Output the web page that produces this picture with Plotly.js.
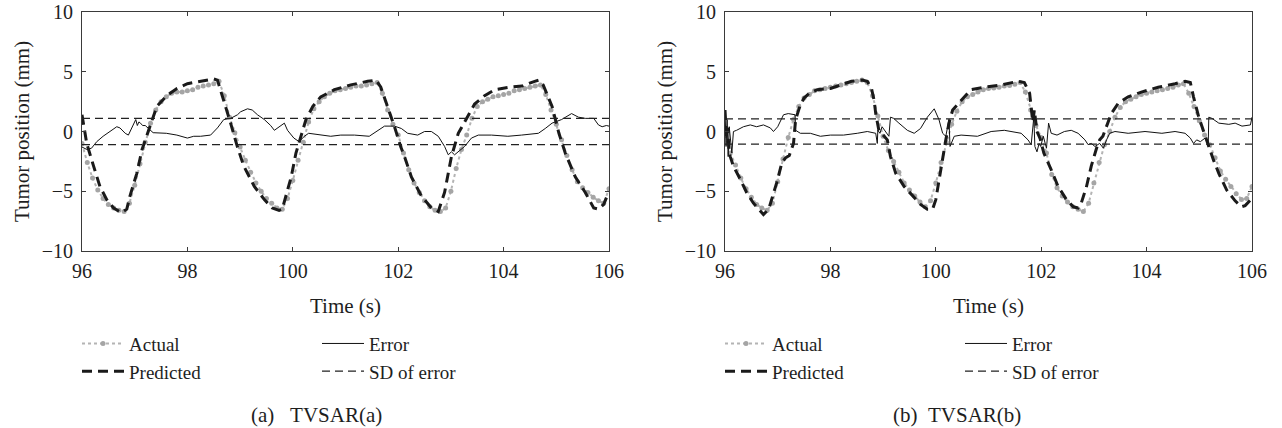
<!DOCTYPE html>
<html><head><meta charset="utf-8">
<script src="https://cdn.plot.ly/plotly-3.0.1.min.js"></script>
<style>
html,body{margin:0;padding:0;background:#fff;width:1282px;height:428px;overflow:hidden}
.p{position:absolute;top:0;width:641px;height:428px}
</style></head>
<body>
<div id="pa" class="p" style="left:0"></div>
<div id="pb" class="p" style="left:641px"></div>
<script>
// ---------- data ----------
const xTicks = [96, 98, 100, 102, 104, 106];
const yTicks = [-10, -5, 0, 5, 10];
const seriesNames = ['Actual', 'Error', 'Predicted', 'SD of error'];
const captions = ['(a)\u00a0\u00a0\u00a0TVSAR(a)', '(b)\u00a0\u00a0TVSAR(b)'];

const tActual = [96.0,96.1,96.2,96.3,96.4,96.5,96.6,96.7,96.8,96.9,
 97.0,97.1,97.2,97.3,97.4,97.5,97.6,97.7,97.8,97.9,
 98.0,98.1,98.2,98.3,98.4,98.5,98.6,98.7,98.8,98.9,
 99.0,99.1,99.2,99.3,99.4,99.5,99.6,99.7,99.8,99.9,
 100.0,100.1,100.2,100.3,100.4,100.5,100.6,100.7,100.8,100.9,
 101.0,101.1,101.2,101.3,101.4,101.5,101.6,101.7,101.8,101.9,
 102.0,102.1,102.2,102.3,102.4,102.5,102.6,102.7,102.8,102.9,
 103.0,103.1,103.2,103.3,103.4,103.5,103.6,103.7,103.8,103.9,
 104.0,104.1,104.2,104.3,104.4,104.5,104.6,104.7,104.8,104.9,
 105.0,105.1,105.2,105.3,105.4,105.5,105.6,105.7,105.8,105.9,
 106.0];

const actualA = [-1.0,-2.6,-3.9,-4.9,-5.6,-6.1,-6.4,-6.6,-6.7,-6.0,
 -4.5,-2.7,-0.9,0.7,1.8,2.5,2.9,3.2,3.3,3.3,
 3.4,3.5,3.7,3.8,3.9,4.0,4.2,3.0,1.2,-0.1,
 -1.3,-2.4,-3.4,-4.3,-5.0,-5.6,-6.0,-6.4,-6.5,-5.6,
 -4.1,-2.4,-0.9,0.8,1.9,2.5,2.9,3.2,3.4,3.5,
 3.6,3.7,3.8,3.8,3.9,4.0,4.1,3.2,1.8,0.6,
 -0.3,-1.8,-3.2,-4.3,-5.1,-5.8,-6.3,-6.6,-6.7,-6.4,
 -5.0,-3.1,-1.5,-0.3,1.1,2.1,2.5,2.7,2.9,3.0,
 3.1,3.2,3.4,3.5,3.6,3.7,3.8,3.9,3.1,1.8,
 0.6,-0.7,-2.0,-3.2,-4.2,-4.7,-5.1,-5.5,-5.8,-6.0,
 -4.8];

const tPredA = [96.0,96.09,96.22,96.34,96.47,96.6,96.75,96.85,96.91,97.04,97.14,97.26,97.42,97.61,97.8,98.0,98.25,98.5,98.57,98.69,98.82,98.95,99.07,99.27,99.46,99.61,99.74,99.8,99.87,99.97,100.06,100.16,100.25,100.38,100.53,100.79,101.1,101.42,101.58,101.67,101.8,101.93,102.05,102.12,102.25,102.44,102.63,102.76,102.88,103.01,103.14,103.33,103.45,103.64,103.83,104.1,104.35,104.59,104.67,104.75,104.92,105.05,105.17,105.36,105.55,105.71,105.8,105.9,106.0];
const predA = [1.4,-1.0,-2.9,-4.6,-5.7,-6.4,-6.8,-6.5,-5.4,-3.5,-1.5,0.1,2.1,3.0,3.6,4.0,4.2,4.4,4.3,2.6,0.7,-1.3,-2.9,-4.6,-5.7,-6.4,-6.6,-6.5,-5.4,-3.8,-1.8,-0.4,1.0,2.1,2.9,3.5,3.9,4.2,4.3,3.7,2.1,0.4,-1.3,-2.1,-3.8,-5.4,-6.4,-6.7,-5.1,-2.1,-0.15,1.4,2.3,3.0,3.5,3.7,3.8,4.2,4.3,3.9,2.1,-0.15,-1.8,-3.8,-5.1,-6.4,-6.5,-6.1,-5.0];

const tErrA = [96.0,96.09,96.18,96.28,96.4,96.53,96.66,96.72,96.82,96.88,96.95,96.98,97.02,97.05,97.08,97.11,97.15,97.2,97.25,97.35,97.6,97.8,98.0,98.12,98.25,98.44,98.57,98.69,98.82,98.95,99.01,99.14,99.23,99.33,99.46,99.58,99.65,99.74,99.84,99.9,100.02,100.12,100.22,100.3,100.53,100.72,100.91,101.17,101.45,101.61,101.74,101.93,102.06,102.18,102.37,102.5,102.63,102.76,102.88,102.95,103.01,103.07,103.17,103.26,103.39,103.52,103.77,104.08,104.34,104.66,104.79,104.92,105.1,105.29,105.42,105.55,105.71,105.8,105.87,105.95,106.0];
const errA = [-1.3,-1.5,-1.4,-0.85,-0.4,0.0,0.4,0.3,-0.15,-0.3,0.4,0.7,1.0,0.5,0.8,0.7,0.5,0.5,0.3,-0.1,-0.15,-0.3,-0.55,-0.4,-0.4,-0.3,0.3,1.0,1.1,1.4,1.65,1.9,1.8,1.4,1.0,0.5,0.1,0.4,0.7,0.1,-0.55,-0.85,-0.4,-0.15,-0.3,-0.4,-0.3,-0.3,-0.4,0.1,0.45,0.45,0.25,-0.15,-0.3,0.0,0.0,-0.4,-1.25,-1.95,-1.7,-1.95,-1.55,-1.25,-0.55,-0.3,-0.3,-0.4,-0.3,-0.15,0.25,0.7,1.0,1.5,1.2,1.1,1.1,0.55,0.4,0.5,0.45];
const sdA = 1.1;

const actualB = [-0.3,-1.8,-2.8,-3.9,-4.8,-5.5,-6.1,-6.4,-6.6,-6.0,
 -4.2,-2.3,-0.5,1.0,2.1,2.8,3.1,3.4,3.5,3.6,
 3.7,3.8,3.9,4.0,4.1,4.2,4.3,4.1,3.0,1.3,
 -0.4,-1.6,-2.5,-3.4,-4.3,-4.9,-5.4,-5.9,-6.3,-5.8,
 -4.3,-2.6,-0.9,0.6,1.7,2.5,2.9,3.1,3.3,3.5,
 3.6,3.65,3.7,3.8,3.85,3.95,4.1,3.3,1.8,0.5,
 -0.5,-1.8,-3.6,-4.7,-5.4,-5.9,-6.3,-6.5,-6.7,-6.0,
 -4.3,-2.6,-1.1,0.0,1.2,2.0,2.5,2.7,2.9,3.1,
 3.2,3.3,3.4,3.5,3.6,3.7,3.9,4.0,3.2,2.1,
 0.9,-0.3,-1.1,-2.2,-3.3,-4.0,-4.6,-5.2,-5.7,-5.6,
 -4.6];

const tPredB = [96.0,96.03,96.05,96.08,96.1,96.16,96.29,96.41,96.54,96.67,96.73,96.83,96.89,96.98,97.08,97.15,97.22,97.3,97.34,97.42,97.5,97.6,97.75,98.0,98.2,98.4,98.6,98.7,98.78,98.83,98.86,98.92,99.02,99.08,99.14,99.24,99.4,99.56,99.71,99.84,99.94,100.0,100.06,100.13,100.19,100.25,100.32,100.48,100.67,100.92,101.24,101.56,101.68,101.78,101.84,101.87,101.92,101.98,102.05,102.19,102.32,102.48,102.61,102.7,102.76,102.86,102.95,103.05,103.11,103.17,103.24,103.33,103.46,103.65,103.9,104.22,104.54,104.73,104.83,104.89,104.99,105.05,105.14,105.17,105.27,105.37,105.52,105.68,105.8,105.87,105.97,106.0];
const predB = [1.8,-0.5,0.3,-1.8,-2.1,-2.9,-4.0,-5.1,-6.0,-6.7,-6.95,-6.5,-5.7,-4.3,-2.6,-2.2,-2.0,-1.0,1.0,2.1,2.8,3.2,3.5,3.6,3.9,4.2,4.3,4.2,3.6,2.6,1.5,0.1,-0.4,-0.7,-2.1,-3.5,-4.6,-5.4,-6.1,-6.5,-6.5,-5.7,-4.0,-2.4,-0.7,0.7,1.8,2.6,3.5,3.7,3.9,4.2,4.1,3.2,0.8,1.8,0.0,-0.6,-1.8,-3.2,-4.6,-5.7,-6.3,-6.4,-6.0,-4.6,-2.9,-1.4,-0.7,-0.4,0.4,1.5,2.35,2.9,3.3,3.7,4.0,4.2,4.1,2.9,1.2,0.4,-0.7,-1.25,-2.4,-3.5,-4.9,-5.8,-6.3,-6.2,-5.7,-5.6];

const tErrB = [96.0,96.02,96.04,96.06,96.08,96.1,96.13,96.16,96.22,96.35,96.48,96.6,96.73,96.86,96.92,97.0,97.11,97.2,97.3,97.33,97.34,97.43,97.62,97.81,98.0,98.25,98.51,98.7,98.86,98.89,98.9,98.94,98.98,99.04,99.11,99.14,99.2,99.3,99.46,99.59,99.71,99.84,99.97,100.06,100.13,100.19,100.25,100.27,100.35,100.48,100.67,100.79,101.05,101.3,101.62,101.75,101.81,101.86,101.88,101.92,101.96,101.99,102.04,102.1,102.14,102.19,102.3,102.44,102.57,102.7,102.83,102.89,102.95,103.02,103.11,103.18,103.24,103.3,103.4,103.65,103.97,104.29,104.54,104.73,104.83,104.89,104.95,105.02,105.11,105.17,105.18,105.24,105.37,105.56,105.68,105.81,105.97,106.0];
const errB = [1.8,-1.25,1.0,-2.1,0.4,-0.7,-1.8,0.0,0.1,0.4,0.55,0.4,0.55,0.3,0.0,0.4,1.4,1.5,1.4,1.4,0.1,-0.15,-0.15,-0.4,-0.3,-0.3,-0.15,0.0,-0.15,-1.0,0.1,-0.15,0.4,0.0,-0.4,1.2,1.1,0.7,0.1,-0.15,0.25,1.2,1.9,1.0,-0.15,-0.4,1.0,-1.25,-0.4,-0.3,-0.4,-0.4,0.0,0.1,-0.15,-0.7,-1.1,1.2,-1.25,-1.7,-1.0,-1.25,-0.4,-1.4,0.7,-0.15,-0.3,0.0,0.1,-0.15,-0.7,-1.1,-1.0,-1.25,-1.0,-1.4,-0.7,-0.15,0.0,-0.15,0.0,-0.15,0.0,-0.15,-0.55,-1.0,-0.7,-0.85,-0.55,-1.0,1.2,1.1,0.7,0.6,0.7,0.45,0.55,1.2];
const sdB = 1.05;

const sdX = [96, 106, null, 96, 106];

// ---------- drawing ----------
const FONT = '"Liberation Serif", "Times New Roman", serif';
const AX = '#3a3a3a';
const TXT = '#1e1e1e';

function axisBase() {
  return {
    showgrid: false, zeroline: false, showline: true, linecolor: AX, linewidth: 1,
    mirror: 'ticks', ticks: 'inside', ticklen: 4, tickwidth: 1, tickcolor: AX,
    tickfont: {family: FONT, size: 20, color: TXT}, fixedrange: true
  };
}

function draw(id, act, tPred, pred, tErr, err, sd, caption, ml, mr) {
  const traces = [
    {x: tActual, y: act, name: seriesNames[0], mode: 'lines+markers',
     line: {color: '#b4b4b4', width: 2, dash: 'dot'},
     marker: {size: 5, color: '#a5a5a5'}},
    {x: tErr, y: err, name: seriesNames[1], mode: 'lines',
     line: {color: '#111', width: 1}},
    {x: tPred, y: pred, name: seriesNames[2], mode: 'lines',
     line: {color: '#1a1a1a', width: 3, dash: '10px,6px'}},
    {x: sdX, y: [sd, sd, null, -sd, -sd], name: seriesNames[3], mode: 'lines',
     line: {color: '#222', width: 1.2, dash: '8px,5px'}}
  ];
  const pw = 641 - ml - mr;
  const xa = axisBase();
  Object.assign(xa, {range: [96, 106], tickvals: xTicks, ticklabelstandoff: 2,
    title: {text: 'Time (s)', font: {family: FONT, size: 21, color: TXT}, standoff: 17}});
  const ya = axisBase();
  Object.assign(ya, {range: [-10, 10], tickvals: yTicks, ticklabelstandoff: 4,
    title: {text: 'Tumor position (mm)', font: {family: FONT, size: 21, color: TXT}, standoff: 6}});
  const layout = {
    width: 641, height: 428,
    margin: {l: ml, r: mr, t: 12, b: 177, pad: 0},
    paper_bgcolor: '#fff', plot_bgcolor: '#fff',
    showlegend: true,
    xaxis: xa, yaxis: ya,
    legend: {orientation: 'h', x: -5 / pw, xanchor: 'left', y: -0.308, yanchor: 'top',
      entrywidth: 183, entrywidthmode: 'pixels', itemwidth: 42,
      font: {family: FONT, size: 19, color: TXT}, bgcolor: 'rgba(0,0,0,0)'},
    annotations: [{text: caption, xref: 'paper', yref: 'paper',
      x: (316 - ml) / pw, y: -0.686, xanchor: 'center', yanchor: 'middle',
      showarrow: false, font: {family: FONT, size: 21, color: TXT}}]
  };
  Plotly.newPlot(id, traces, layout, {staticPlot: true, displayModeBar: false});
}

draw('pa', actualA, tPredA, predA, tErrA, errA, sdA, captions[0], 82, 32);
draw('pb', actualB, tPredB, predB, tErrB, errB, sdB, captions[1], 84, 30);
</script>
</body></html>
